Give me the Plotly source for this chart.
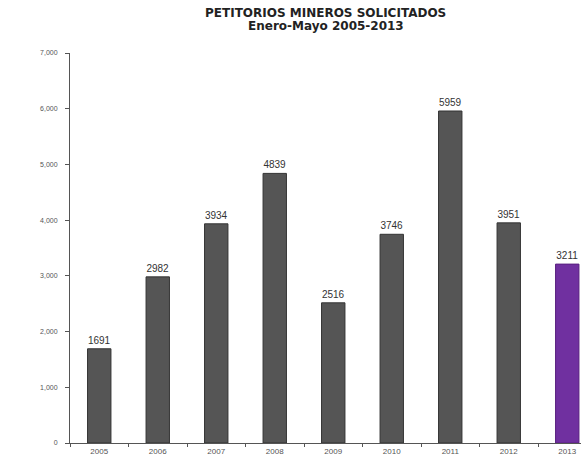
import plotly.graph_objects as go

years = ["2005", "2006", "2007", "2008", "2009", "2010", "2011", "2012", "2013"]
values = [1691, 2982, 3934, 4839, 2516, 3746, 5959, 3951, 3211]
bar_colors = ["#555555"] * 8 + ["#7030A0"]
line_colors = ["#333333"] * 8 + ["#5a2080"]
title_lines = ["PETITORIOS MINEROS SOLICITADOS", "Enero-Mayo 2005-2013"]

W, H = 581, 459
L, T, B, R = 70, 53, 16, 0
plot_h = H - T - B

fig = go.Figure(go.Bar(
    x=years, y=values,
    marker=dict(color=bar_colors, line=dict(color=line_colors, width=1)),
    width=0.40,
    text=[str(v) for v in values], textposition="outside",
    textfont=dict(family="Liberation Sans, Arial", size=10, color="#333333"),
    cliponaxis=False,
))

fig.update_layout(
    width=W, height=H,
    margin=dict(l=L, r=R, t=T, b=B, autoexpand=False),
    paper_bgcolor="white", plot_bgcolor="white",
    showlegend=False,
    font=dict(family="Liberation Sans, Arial", color="#555555"),
)
for txt, fy in zip(title_lines, [13, 26]):
    fig.add_annotation(
        text="<b>" + txt + "</b>", xref="paper", yref="paper",
        x=0.5, y=1 + (T - fy) / plot_h, xanchor="center", yanchor="middle",
        showarrow=False,
        font=dict(family="DejaVu Sans", size=12, color="#222222"),
    )
fig.update_xaxes(
    type="category", range=[-0.5, 8.235], automargin=False,
    showline=True, linecolor="#555555", linewidth=1,
    ticks="outside", tickson="boundaries", ticklen=3, tickcolor="#555555",
    tickfont=dict(size=8, color="#555555"), showgrid=False,
)
fig.update_yaxes(
    range=[0, 7000], dtick=1000, tickformat=",", automargin=False,
    showline=True, linecolor="#555555", linewidth=1,
    ticks="outside", ticklen=4, tickcolor="#555555", ticklabelstandoff=6,
    tickfont=dict(size=7, color="#555555"), showgrid=False, zeroline=False,
)

fig.write_html(
    "out.html",
    config={"displayModeBar": False},
    post_script="document.body.style.margin='0';document.body.style.overflow='hidden';",
)
